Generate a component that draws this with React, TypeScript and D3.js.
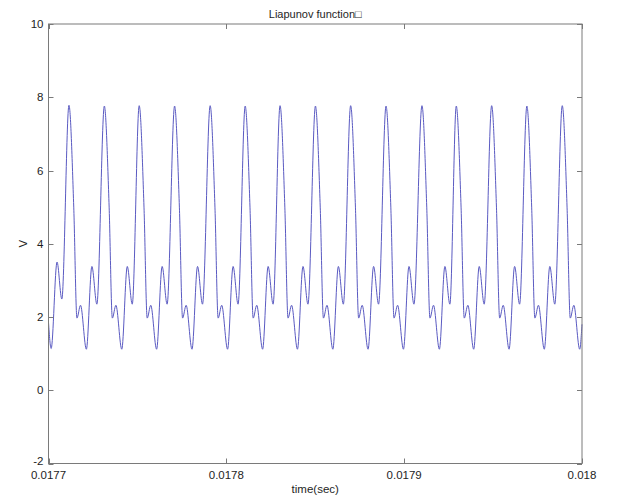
import { useEffect, useRef } from 'react';
import * as d3 from 'd3';

// axis ticks
const xTicks = [0.0177, 0.0178, 0.0179, 0.018];
const xTickLabels = ['0.0177', '0.0178', '0.0179', '0.018'];
const yTicks = [-2, 0, 2, 4, 6, 8, 10];

// trace, times in microseconds after t = 0.0177 s
const leadTimes = [0, 1.5, 4.8, 7.5];
const leadValues = [1.85, 1.14, 3.5, 2.49];
const peakTimes = [11.5, 31.4, 51.0, 70.9, 90.9, 110.6, 130.2, 150.1, 169.9, 189.8, 210.0, 229.3, 249.2, 269.0, 288.9];
const peakValues = [7.78, 7.76, 7.77, 7.76, 7.77, 7.76, 7.77, 7.76, 7.77, 7.76, 7.77, 7.76, 7.77, 7.76, 7.77];
// shape after each peak: offset (µs) and value
const shapeOffsets = [2.7, 4.5, 6.5, 9.8, 12.9, 15.7];
const shapeValues = [5.0, 1.97, 2.32, 1.12, 3.38, 2.35];
const endTime = 300;
const endValue = 1.8;

const T0 = 0.0177;

export default function App() {
  const svgRef = useRef<SVGSVGElement>(null);

  useEffect(() => {
    document.body.style.margin = '0';
    if (!svgRef.current) return;
    const svg = d3.select(svgRef.current);
    svg.selectAll('*').remove();

    const W = 618, H = 499;
    const m = { l: 48.5, r: 582, t: 24, b: 463.5 };
    const font = "'Liberation Sans', Arial, sans-serif";

    svg.append('rect').attr('width', W).attr('height', H).attr('fill', '#fff');

    const x = d3.scaleLinear().domain([0.0177, 0.018]).range([m.l, m.r]);
    const y = d3.scaleLinear().domain([-2, 10]).range([m.b, m.t]);

    // build series
    const pts: { t: number; v: number }[] = [];
    leadTimes.forEach((t, i) => pts.push({ t, v: leadValues[i] }));
    peakTimes.forEach((p, i) => {
      pts.push({ t: p, v: peakValues[i] });
      shapeOffsets.forEach((o, j) => {
        if (p + o < endTime) pts.push({ t: p + o, v: shapeValues[j] });
      });
    });
    pts.push({ t: endTime, v: endValue });

    const line = d3.line<{ t: number; v: number }>()
      .x(d => x(T0 + d.t * 1e-6))
      .y(d => y(d.v))
      .curve(d3.curveMonotoneX);

    svg.append('path').datum(pts).attr('d', line)
      .attr('fill', 'none').attr('stroke', '#5a5ac2').attr('stroke-width', 1);

    // box
    const axisColor = '#7a7a7a';
    svg.append('rect').attr('x', m.l).attr('y', m.t).attr('width', m.r - m.l).attr('height', m.b - m.t)
      .attr('fill', 'none').attr('stroke', axisColor).attr('stroke-width', 1);

    const tl = 5;
    const g = svg.append('g').attr('stroke', axisColor).attr('stroke-width', 1);
    xTicks.forEach(v => {
      const px = Math.round(x(v)) + 0.5;
      g.append('line').attr('x1', px).attr('x2', px).attr('y1', m.b).attr('y2', m.b - tl);
      g.append('line').attr('x1', px).attr('x2', px).attr('y1', m.t).attr('y2', m.t + tl);
    });
    yTicks.forEach(v => {
      const py = Math.round(y(v)) + 0.5;
      g.append('line').attr('x1', m.l).attr('x2', m.l + tl).attr('y1', py).attr('y2', py);
      g.append('line').attr('x1', m.r).attr('x2', m.r - tl).attr('y1', py).attr('y2', py);
    });

    const txt = svg.append('g').attr('font-family', font).attr('font-size', 11.5).attr('fill', '#1e1e1e');
    xTicks.forEach((v, i) => {
      txt.append('text').attr('x', x(v)).attr('y', m.b + 15).attr('text-anchor', 'middle').text(xTickLabels[i]);
    });
    yTicks.forEach(v => {
      const yy = v === -2 ? y(v) - 3 : y(v);
      txt.append('text').attr('x', m.l - 5).attr('y', yy).attr('dy', '0.35em').attr('text-anchor', 'end').text(String(v));
    });

    txt.append('text').attr('x', (m.l + m.r) / 2).attr('y', 18).attr('font-size', 11).attr('text-anchor', 'middle').text('Liapunov function\u25A1');
    txt.append('text').attr('x', (m.l + m.r) / 2).attr('y', 493).attr('text-anchor', 'middle').text('time(sec)');
    txt.append('text').attr('transform', `translate(27,${y(4)}) rotate(-90)`).attr('text-anchor', 'middle').text('V');
  }, []);

  return <svg ref={svgRef} width={618} height={499} style={{ display: 'block' }} />;
}
